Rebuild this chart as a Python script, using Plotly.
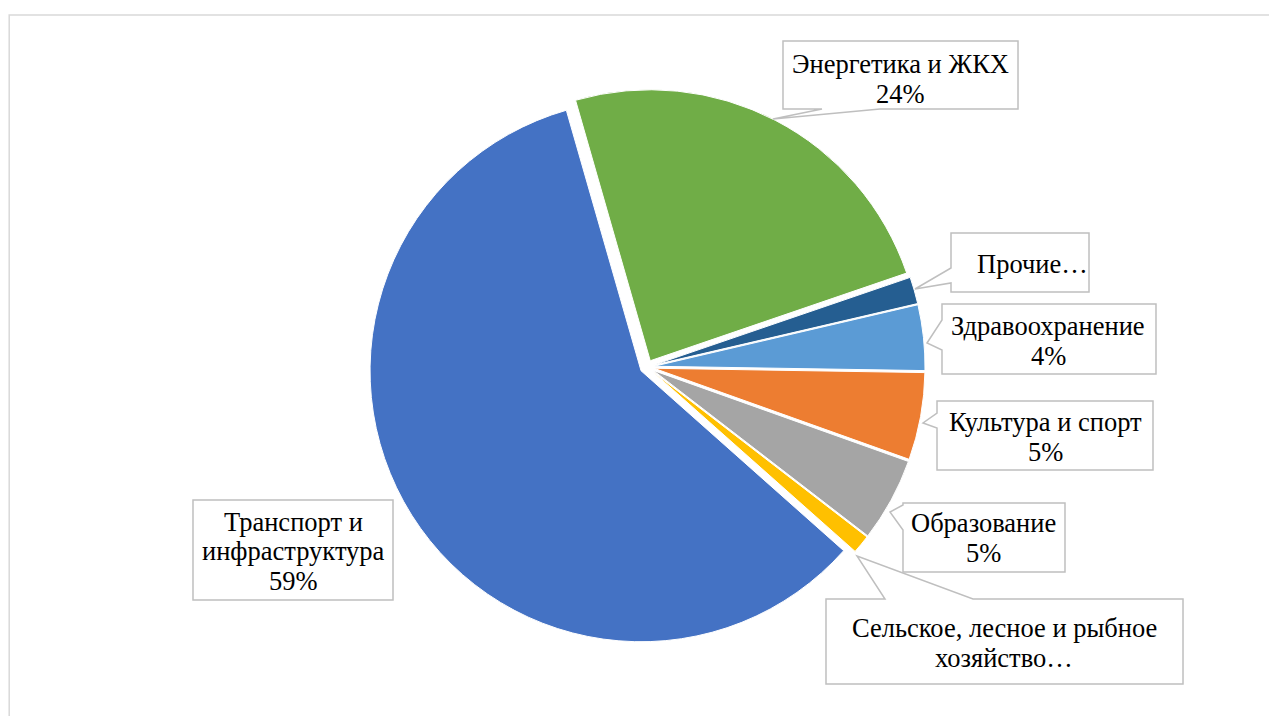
import plotly.graph_objects as go

# ---------------- data ----------------
labels = ["Энергетика и ЖКХ", "Прочие", "Здравоохранение", "Культура и спорт",
          "Образование", "Сельское, лесное и рыбное хозяйство", "Транспорт и инфраструктура"]
values = [24.2, 1.6, 3.9, 5.2, 5.0, 1.1, 59.0]
label_lines = [["Энергетика и ЖКХ", "24%"], ["Прочие…"], ["Здравоохранение", "4%"],
               ["Культура и спорт", "5%"], ["Образование", "5%"],
               ["Сельское, лесное и рыбное", "хозяйство…"], ["Транспорт и", "инфраструктура", "59%"]]
colors = ["#70AD47", "#255E91", "#5B9BD5", "#ED7D31", "#A5A5A5", "#FFC000", "#4472C4"]

# ---------------- layout constants (pixels) ----------------
W, H = 1277, 716
OFF = 8            # page body margin offset
PIE_CX, PIE_CY, PIE_R = 647, 367, 271
PULL = 0.026
FONT = "Liberation Serif, Times New Roman, serif"
FS = 26.5
LINE_H = 29.5

def px(x):
    return (x - OFF) / W

def py(y):
    return 1 - (y - OFF) / H

half = PIE_R * (1 + PULL)
dom_x = [px(PIE_CX - half), px(PIE_CX + half)]
dom_y = [py(PIE_CY + half), py(PIE_CY - half)]

fig = go.Figure(go.Pie(
    labels=labels, values=values, sort=False, direction="clockwise",
    rotation=-16, pull=[PULL] * len(values), textinfo="none",
    marker=dict(colors=colors, line=dict(color="white", width=1)),
    domain=dict(x=dom_x, y=dom_y), hoverinfo="label+percent",
))

# callout boxes: (x0, y0, x1, y1, tail side, attach a, attach b, tip x, tip y, text cx, text cy)
callouts = [
    (783, 41, 1018, 109, "bottom", 822, 880, 773, 119, 900, 79),
    (951, 233, 1089, 292, "left", 268, 283, 915, 289, 1032, 264),
    (942, 304, 1156, 374, "left", 320, 350, 927, 343, 1048, 341),
    (937, 401, 1153, 470, "left", 413, 428, 923, 423, 1045, 437),
    (903, 503, 1065, 572, "left", 505, 530, 890, 512, 983, 538),
    (826, 599, 1183, 684, "top", 885, 973, 857, 556, 1004, 643),
    (193, 500, 393, 600, None, 0, 0, 0, 0, 293, 551),
]

shapes = []
annotations = []
for (x0, y0, x1, y1, side, a, b, tx, ty, cx, cy), lines in zip(callouts, label_lines):
    if side == "bottom":
        pts = [(x0, y0), (x1, y0), (x1, y1), (b, y1), (tx, ty), (a, y1), (x0, y1)]
    elif side == "left":
        pts = [(x0, y0), (x1, y0), (x1, y1), (x0, y1), (x0, b), (tx, ty), (x0, a)]
    elif side == "top":
        pts = [(x0, y0), (a, y0), (tx, ty), (b, y0), (x1, y0), (x1, y1), (x0, y1)]
    else:
        pts = [(x0, y0), (x1, y0), (x1, y1), (x0, y1)]
    path = "M " + " L ".join(f"{px(x):.5f},{py(y):.5f}" for x, y in pts) + " Z"
    shapes.append(dict(type="path", path=path, xref="paper", yref="paper",
                       line=dict(color="#BFBFBF", width=1.5), fillcolor="white", layer="above"))
    n = len(lines)
    for i, line in enumerate(lines):
        ly = cy + (i - (n - 1) / 2) * LINE_H
        annotations.append(dict(x=px(cx), y=py(ly), xref="paper", yref="paper",
                                text=line, showarrow=False, xanchor="center", yanchor="middle",
                                align="center", font=dict(family=FONT, size=FS, color="#000000")))

# outer chart frame (left edge kept just inside the drawable area)
shapes.insert(0, dict(type="rect", xref="paper", yref="paper",
                      x0=1.2 / W, x1=px(1300), y0=py(15), y1=py(740),
                      line=dict(color="#D9D9D9", width=1.5), fillcolor="rgba(0,0,0,0)", layer="below"))

fig.update_layout(
    width=W, height=H, margin=dict(l=0, r=0, t=0, b=0),
    paper_bgcolor="white", plot_bgcolor="white", showlegend=False,
    shapes=shapes, annotations=annotations,
)

fig.write_html("out.html")
